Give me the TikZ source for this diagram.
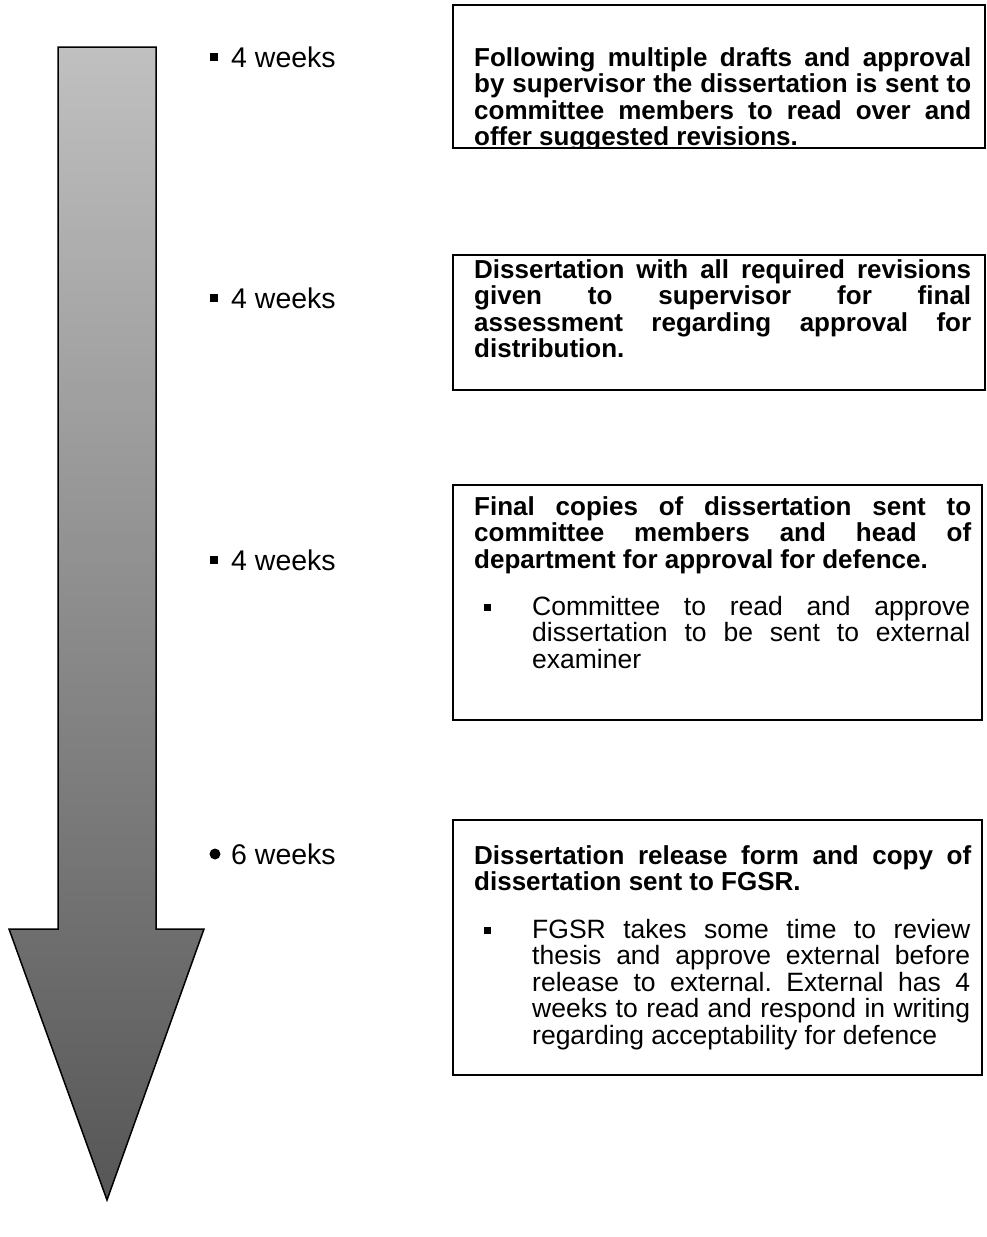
\documentclass[tikz,border=0pt]{standalone}
\usepackage{fontspec}
\setmainfont{Liberation Sans}
\usepackage{tikz}
\frenchspacing

\definecolor{arrowtop}{RGB}{192,192,192}
\definecolor{arrowbottom}{RGB}{86,86,86}

\tikzset{
  weekslabel/.style={anchor=base west, inner sep=0pt, font=\fontsize{28.5}{34}\selectfont},
  sqbullet/.style={fill=black, inner sep=0pt, minimum size=#1},
  stepbox/.style={draw=black, line width=1.8pt},
  boxtext/.style={anchor=north west, inner sep=0pt, text width=497pt, align=justify,
    font=\fontsize{26}{26.5}\selectfont\bfseries},
  itemtext/.style={anchor=north west, inner sep=0pt, text width=438pt, align=justify,
    font=\fontsize{26.5}{26.5}\selectfont}
}

\begin{document}
\begin{tikzpicture}[x=1pt, y=-1pt]
    \useasboundingbox (0,0) rectangle (987,1237);

    % Time arrow
    \shadedraw[top color=arrowtop, bottom color=arrowbottom, line width=1.5pt, line join=miter]
      (58,47) -- (156,47) -- (156,929) -- (204,929) -- (107,1200) -- (9,929) -- (58,929) -- cycle;

    % Durations
    \node[sqbullet=8pt] (b1) at (214,57) {};
    \node[weekslabel] (w1) at (231,67) {4 weeks};
    \node[sqbullet=8pt] (b2) at (214,298) {};
    \node[weekslabel] (w2) at (231,308) {4 weeks};
    \node[sqbullet=8pt] (b3) at (214,560) {};
    \node[weekslabel] (w3) at (231,570) {4 weeks};
    \node[circle, fill=black, inner sep=0pt, minimum size=11pt] (b4) at (215,854) {};
    \node[weekslabel] (w4) at (231,864) {6 weeks};

    % Step 1 (text cut off by the box)
    \begin{scope}
      \clip (453,0) rectangle (985,148);
      \node[boxtext] (t1) at (474,47) {Following multiple drafts and approval\linebreak
        by supervisor the dissertation is sent to\linebreak
        committee members to read over and\linebreak
        offer suggested revisions.};
    \end{scope}
    \draw[stepbox] (453,5) rectangle (985,148);

    % Step 2
    \draw[stepbox] (453,255) rectangle (985,390);
    \node[boxtext] (t2) at (474,259) {Dissertation with all required revisions\linebreak
      given to supervisor for final\linebreak
      assessment regarding approval for\linebreak
      distribution.};

    % Step 3
    \draw[stepbox] (453,485) rectangle (982,720);
    \node[boxtext] (t3) at (474,496) {Final copies of dissertation sent to\linebreak
      committee members and head of\linebreak
      department for approval for defence.};
    \node[sqbullet=7pt] (s3) at (487,607) {};
    \node[itemtext] (i3) at (532,596) {Committee to read and approve\linebreak
      dissertation to be sent to external\linebreak
      examiner};

    % Step 4
    \draw[stepbox] (453,820) rectangle (982,1075);
    \node[boxtext] (t4) at (474,845) {Dissertation release form and copy of\linebreak
      dissertation sent to FGSR.};
    \node[sqbullet=7pt] (s4) at (487,930) {};
    \node[itemtext] (i4) at (532,919) {FGSR takes some time to review\linebreak
      thesis and approve external before\linebreak
      release to external. External has 4\linebreak
      weeks to read and respond in writing\linebreak
      regarding acceptability for defence};
\end{tikzpicture}
\end{document}
